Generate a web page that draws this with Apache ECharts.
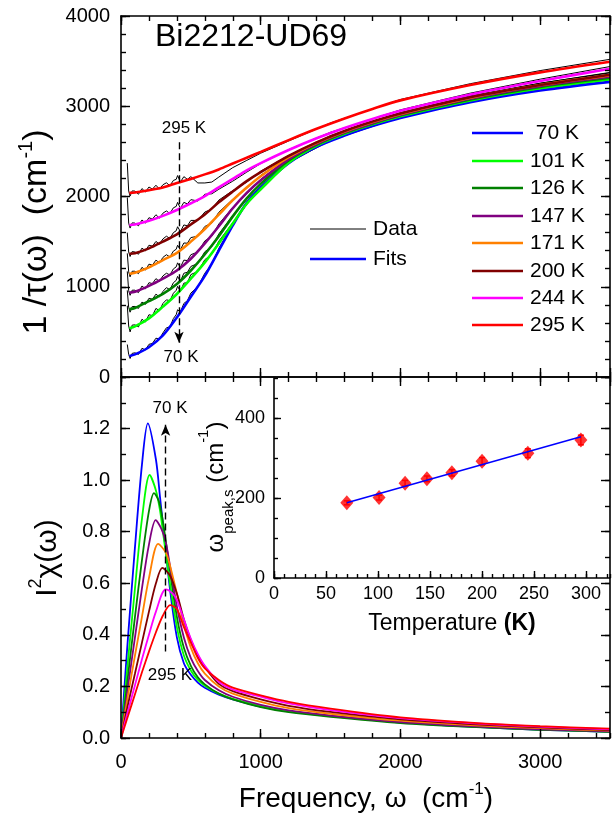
<!DOCTYPE html>
<html><head><meta charset="utf-8">
<script src="https://cdn.jsdelivr.net/npm/echarts/dist/echarts.min.js"></script>
<style>html,body{margin:0;padding:0;background:#fff}#c{width:613px;height:813px}</style>
</head><body><div id="c"></div>
<script>
// ---------------- data ----------------
const tempLabels = [' 70 K','101 K','126 K','147 K','171 K','200 K','244 K','295 K'];
const curveColors = ['#0000FF','#00FF00','#008000','#800080','#FF8000','#800000','#FF00FF','#FF0000'];

// top panel: fits 1/tau(omega)
const omegaFit = [60,100,200,300,400,500,600,700,800,900,1000,1200,1400,1600,1800,2000,2500,3000,3500];
const fit70  = [233,250,330,460,660,890,1120,1400,1680,1930,2100,2370,2550,2675,2780,2870,3045,3175,3270];
const fit101 = [541,560,650,780,920,1090,1270,1480,1700,1920,2080,2375,2565,2695,2800,2890,3065,3200,3300];
const fit126 = [752,765,840,920,1030,1180,1360,1560,1780,1980,2140,2400,2575,2705,2810,2900,3075,3215,3315];
const fit147 = [937,945,1010,1090,1180,1310,1480,1670,1870,2040,2180,2415,2585,2712,2815,2905,3085,3225,3330];
const fit171 = [1144,1155,1215,1295,1375,1500,1640,1800,1960,2100,2225,2435,2595,2720,2825,2915,3095,3235,3345];
const fit200 = [1365,1370,1425,1500,1580,1690,1800,1935,2055,2170,2270,2450,2600,2725,2830,2920,3100,3235,3350];
const fit244 = [1685,1690,1730,1785,1850,1925,2005,2100,2195,2290,2370,2515,2645,2760,2860,2950,3130,3280,3415];
const fit295 = [2040,2045,2070,2100,2150,2195,2245,2300,2365,2430,2495,2625,2750,2865,2970,3065,3235,3375,3493];

// top panel: measured data 1/tau(omega)
const omegaData = [45,55,65,80,100,125,150,175,200,225,250,275,300,325,350,375,395,405,425,450,475,500,550,600,650,700,800,900,1000,1200,1500,2000,2500,3000,3500];
const data70  = [360,250,205,262,268,250,318,300,362,372,430,420,488,545,555,648,690,745,720,815,845,930,1000,1150,1250,1425,1690,1920,2110,2375,2622,2880,3060,3195,3295];
const data101 = [790,565,500,575,578,555,640,610,690,680,760,735,815,855,845,928,960,1005,950,1040,1045,1135,1170,1300,1360,1505,1710,1910,2090,2380,2640,2900,3080,3220,3325];
const data126 = [960,772,718,780,782,760,830,805,872,862,918,888,948,990,968,1045,1070,1115,1060,1150,1160,1225,1258,1388,1445,1585,1790,1970,2150,2405,2650,2910,3090,3235,3340];
const data147 = [1170,955,905,962,962,935,1008,978,1045,1035,1090,1060,1120,1150,1130,1198,1220,1265,1215,1295,1290,1355,1385,1508,1560,1695,1880,2030,2190,2420,2660,2915,3100,3245,3355];
const data171 = [1370,1165,1110,1172,1172,1145,1215,1185,1250,1240,1295,1265,1325,1355,1330,1395,1415,1460,1410,1485,1482,1545,1560,1668,1705,1825,1970,2090,2235,2440,2668,2925,3110,3255,3370];
const data200 = [1600,1385,1335,1390,1385,1360,1428,1398,1460,1450,1502,1472,1530,1560,1535,1600,1620,1665,1612,1685,1675,1735,1735,1828,1860,1960,2065,2160,2280,2455,2673,2930,3115,3255,3375];
const data244 = [1990,1705,1650,1708,1705,1675,1740,1705,1765,1750,1798,1760,1815,1840,1812,1875,1890,1935,1870,1935,1918,1965,1950,2025,2030,2080,2170,2270,2365,2520,2712,2960,3145,3300,3440];
const data295 = [2370,2060,2005,2062,2060,2025,2088,2050,2105,2082,2125,2082,2130,2152,2120,2178,2190,2232,2160,2220,2190,2220,2150,2150,2160,2215,2320,2400,2480,2615,2815,3075,3250,3395,3520];

// bottom panel: I^2 chi(omega)  [omega, value]
const chi70  = [[0,0],[25,0.2],[50,0.39],[100,0.74],[150,1.06],[192,1.22],[250,1.08],[280,0.93],[300,0.83],[350,0.58],[400,0.39],[450,0.29],[500,0.245],[550,0.215],[600,0.195],[700,0.168],[800,0.15],[1000,0.122],[1200,0.103],[1500,0.085],[2000,0.06],[2500,0.044],[3000,0.032],[3500,0.024]];
const chi101 = [[0,0],[25,0.15],[50,0.30],[100,0.58],[150,0.85],[205,1.02],[250,0.96],[280,0.88],[300,0.80],[350,0.60],[400,0.43],[450,0.32],[500,0.262],[550,0.225],[600,0.203],[700,0.172],[800,0.152],[1000,0.124],[1200,0.104],[1500,0.086],[2000,0.061],[2500,0.045],[3000,0.033],[3500,0.025]];
const chi126 = [[0,0],[25,0.12],[50,0.24],[100,0.47],[150,0.69],[200,0.88],[236,0.95],[270,0.92],[300,0.84],[350,0.65],[400,0.47],[450,0.35],[500,0.28],[550,0.235],[600,0.208],[700,0.172],[800,0.15],[1000,0.12],[1200,0.1],[1500,0.082],[2000,0.058],[2500,0.043],[3000,0.032],[3500,0.024]];
const chi147 = [[0,0],[25,0.1],[50,0.2],[100,0.39],[150,0.58],[200,0.75],[248,0.845],[290,0.81],[320,0.76],[350,0.67],[400,0.51],[450,0.39],[500,0.31],[550,0.26],[600,0.225],[700,0.185],[800,0.16],[1000,0.128],[1200,0.107],[1500,0.087],[2000,0.062],[2500,0.046],[3000,0.034],[3500,0.026]];
const chi171 = [[0,0],[25,0.083],[50,0.165],[100,0.32],[150,0.47],[200,0.62],[266,0.753],[320,0.72],[350,0.67],[400,0.56],[450,0.44],[500,0.35],[550,0.29],[600,0.25],[700,0.2],[800,0.172],[1000,0.14],[1200,0.116],[1500,0.094],[2000,0.067],[2500,0.05],[3000,0.038],[3500,0.029]];
const chi200 = [[0,0],[25,0.065],[50,0.13],[100,0.25],[150,0.37],[200,0.49],[250,0.6],[296,0.66],[350,0.63],[400,0.56],[450,0.46],[500,0.38],[550,0.32],[600,0.275],[700,0.21],[800,0.182],[1000,0.15],[1200,0.125],[1500,0.101],[2000,0.072],[2500,0.054],[3000,0.041],[3500,0.031]];
const chi244 = [[0,0],[25,0.053],[50,0.105],[100,0.205],[150,0.305],[200,0.4],[250,0.49],[320,0.576],[370,0.56],[400,0.535],[450,0.46],[500,0.385],[550,0.325],[600,0.28],[700,0.218],[800,0.188],[1000,0.16],[1200,0.134],[1500,0.108],[2000,0.077],[2500,0.058],[3000,0.044],[3500,0.034]];
const chi295 = [[0,0],[25,0.043],[50,0.085],[100,0.17],[150,0.255],[200,0.335],[250,0.41],[300,0.475],[352,0.515],[400,0.5],[450,0.43],[500,0.37],[550,0.31],[600,0.27],[700,0.225],[800,0.195],[1000,0.165],[1200,0.14],[1500,0.114],[2000,0.08],[2500,0.06],[3000,0.046],[3500,0.036]];

// inset: omega_peak,s vs temperature
const insetT    = [70,101,126,147,171,200,244,295];
const insetPeak = [188,201,237,248,263,292,312,345];
const insetErr  = [5,6,7,7,8,9,11,12];
const insetFitT = [70,295];
const insetFitPeak = [188,353];

// tick labels / annotations
const freqTicks = [0,1000,2000,3000];
const arrowTop = {omega:415, from:2600, to:380};
const arrowBottom = {omega:319, from:0.335, to:1.215};

// ---------------- chart ----------------
const FF = "'Liberation Sans', Arial, Helvetica, sans-serif";
const fits = [fit70,fit101,fit126,fit147,fit171,fit200,fit244,fit295];
const datas = [data70,data101,data126,data147,data171,data200,data244,data295];
const chis = [chi70,chi101,chi126,chi147,chi171,chi200,chi244,chi295];

function axis(o){
  return {
    type:'value', min:0, gridIndex:o.grid, position:o.pos, max:o.max, interval:o.interval,
    splitLine:{show:false},
    axisLine:{show:!o.minor, onZero:false, lineStyle:{color:'#000', width:1.6}},
    axisTick:{show:true, inside:true, length:o.minor?o.minLen:o.majLen, lineStyle:{color:'#000', width:1.4}},
    axisLabel:{show:!!o.label, color:'#000', fontFamily:FF, fontSize:o.fs||20, margin:o.margin||12,
      showMaxLabel:o.showMax!==false, formatter:o.fmt||(v=>String(v))},
    z: 5
  };
}
const xAxes = [
  axis({grid:0,pos:'bottom',max:3500,interval:1000,majLen:9}),
  axis({grid:0,pos:'bottom',max:3500,interval:200,minor:true,minLen:5}),
  axis({grid:0,pos:'top',max:3500,interval:1000,majLen:9}),
  axis({grid:0,pos:'top',max:3500,interval:200,minor:true,minLen:5}),
  axis({grid:1,pos:'bottom',max:3500,interval:1000,majLen:9,label:true,showMax:false,margin:14,
        fmt:v=>freqTicks.indexOf(v)>=0?String(v):''}),
  axis({grid:1,pos:'bottom',max:3500,interval:200,minor:true,minLen:5}),
  axis({grid:1,pos:'top',max:3500,interval:1000,majLen:9}),
  axis({grid:1,pos:'top',max:3500,interval:200,minor:true,minLen:5}),
  axis({grid:2,pos:'bottom',max:323,interval:50,majLen:7,label:true,showMax:false,fs:18,margin:7}),
  axis({grid:2,pos:'bottom',max:323,interval:10,minor:true,minLen:4})
];
const yAxes = [
  axis({grid:0,pos:'left',max:4000,interval:1000,majLen:9,label:true,margin:11}),
  axis({grid:0,pos:'left',max:4000,interval:200,minor:true,minLen:5}),
  axis({grid:0,pos:'right',max:4000,interval:1000,majLen:9}),
  axis({grid:0,pos:'right',max:4000,interval:200,minor:true,minLen:5}),
  axis({grid:1,pos:'left',max:1.4,interval:0.2,majLen:9,label:true,showMax:false,margin:11,fmt:v=>v.toFixed(1)}),
  axis({grid:1,pos:'left',max:1.4,interval:0.1,minor:true,minLen:5}),
  axis({grid:1,pos:'right',max:1.4,interval:0.2,majLen:9}),
  axis({grid:1,pos:'right',max:1.4,interval:0.1,minor:true,minLen:5}),
  axis({grid:2,pos:'left',max:500,interval:200,majLen:7,label:true,showMax:false,fs:18,margin:9}),
  axis({grid:2,pos:'left',max:500,interval:50,minor:true,minLen:4})
];

const series = [];
datas.forEach((d,i)=>{
  series.push({type:'line', name:'data'+i, xAxisIndex:0, yAxisIndex:0, symbol:'none', z:2,
    lineStyle:{color:'#000', width:1}, data: omegaData.map((w,k)=>[w,d[k]])});
});
fits.forEach((f,i)=>{
  const s = {type:'line', name:'fit'+i, xAxisIndex:0, yAxisIndex:0, symbol:'none', smooth:0.3, z:3,
    lineStyle:{color:curveColors[i], width:2.6}, data: omegaFit.map((w,k)=>[w,f[k]])};
  if(i===7){
    s.markLine = {silent:true, symbol:['none','arrow'], symbolSize:[7,11], animation:false,
      lineStyle:{color:'#000', type:[7,4], width:1.4}, label:{show:false},
      data:[[{coord:[arrowTop.omega,arrowTop.from]},{coord:[arrowTop.omega,arrowTop.to]}]]};
  }
  series.push(s);
});
chis.forEach((c,i)=>{
  const s = {type:'line', name:'chi'+i, xAxisIndex:4, yAxisIndex:4, symbol:'none', smooth:0.3, z:3,
    lineStyle:{color:curveColors[i], width:1.8}, data:c};
  if(i===0){
    s.markLine = {silent:true, symbol:['none','arrow'], symbolSize:[7,11], animation:false,
      lineStyle:{color:'#000', type:[7,4], width:1.4}, label:{show:false},
      data:[[{coord:[arrowBottom.omega,arrowBottom.from]},{coord:[arrowBottom.omega,arrowBottom.to]}]]};
  }
  series.push(s);
});
series.push({type:'custom', xAxisIndex:8, yAxisIndex:8, z:4,
  data: insetT.map((t,k)=>[t,insetPeak[k],insetErr[k]]),
  renderItem:(params,api)=>{
    const x=api.value(0), y=api.value(1), e=api.value(2);
    const a=api.coord([x,y+e]), b=api.coord([x,y-e]);
    const st={stroke:'#FF0000', lineWidth:1.5};
    return {type:'group', children:[
      {type:'line', shape:{x1:a[0],y1:a[1],x2:b[0],y2:b[1]}, style:st},
      {type:'line', shape:{x1:a[0]-3,y1:a[1],x2:a[0]+3,y2:a[1]}, style:st},
      {type:'line', shape:{x1:b[0]-3,y1:b[1],x2:b[0]+3,y2:b[1]}, style:st}]};
  }});
series.push({type:'scatter', xAxisIndex:8, yAxisIndex:8, symbol:'diamond', symbolSize:[13,15], z:5,
  itemStyle:{color:'#FF0000'}, data: insetT.map((t,k)=>[t,insetPeak[k]])});
series.push({type:'line', xAxisIndex:8, yAxisIndex:8, symbol:'none', z:6,
  lineStyle:{color:'#0000FF', width:1.5}, data: insetFitT.map((t,k)=>[t,insetFitPeak[k]])});

const T = (x,y,text,size,extra)=>({type:'text', x:x, y:y, z:100, silent:true,
  style:Object.assign({text:text, fill:'#000', font:size+'px '+FF, fontSize:size, fontFamily:FF,
    align:'left', verticalAlign:'middle', textAlign:'left', textVerticalAlign:'middle'}, extra||{})});
const graphic = [];
graphic.push(T(155,37,'Bi2212-UD69',32));
graphic.push(T(184,128,'295 K',17,{align:'center',textAlign:'center'}));
graphic.push(T(181,357,'70 K',17,{align:'center',textAlign:'center'}));
graphic.push(T(170,408,'70 K',17,{align:'center',textAlign:'center'}));
graphic.push(T(170,675,'295 K',17,{align:'center',textAlign:'center'}));
const legY = [133,161,188,216,243,271,298,325];
tempLabels.forEach((t,i)=>{
  graphic.push({type:'line', silent:true, z:100, shape:{x1:472,y1:legY[i],x2:523,y2:legY[i]}, style:{stroke:curveColors[i], lineWidth:2.6}});
  graphic.push(T(530,legY[i],t,21));
});
graphic.push({type:'line', silent:true, z:100, shape:{x1:310,y1:229,x2:366,y2:229}, style:{stroke:'#000', lineWidth:1}});
graphic.push({type:'line', silent:true, z:100, shape:{x1:310,y1:259,x2:366,y2:259}, style:{stroke:'#0000FF', lineWidth:2.6}});
graphic.push(T(373,229,'Data',21));
graphic.push(T(373,259,'Fits',21));

function richT(x,y,text,rich,rot){
  return {type:'text', x:x, y:y, rotation:rot||0, z:100, silent:true,
    style:{text:text, rich:rich, fill:'#000', align:'center', verticalAlign:'middle', textAlign:'center', textVerticalAlign:'middle'}};
}
graphic.push(richT(35,232,'{a|1 /τ(ω)  (cm}{s|-1}{a|)}',{
  a:{fontSize:34, fontFamily:FF, lineHeight:38, verticalAlign:'bottom'},
  s:{fontSize:20, fontFamily:FF, lineHeight:22, verticalAlign:'top'}}, Math.PI/2));
graphic.push(richT(45,558,'{a|I}{s|2}{a|χ(ω)}',{
  a:{fontSize:30, fontFamily:FF, lineHeight:36, verticalAlign:'bottom'},
  s:{fontSize:18, fontFamily:FF, lineHeight:20, verticalAlign:'top'}}, Math.PI/2));
graphic.push(richT(366,797,'{a|Frequency, ω  (cm}{s|-1}{a|)}',{
  a:{fontSize:28, fontFamily:FF, lineHeight:32, verticalAlign:'bottom'},
  s:{fontSize:17, fontFamily:FF, lineHeight:18, verticalAlign:'top'}}));
graphic.push(richT(452,624,'{a|Temperature }{b|(K)}',{
  a:{fontSize:23, fontFamily:FF}, b:{fontSize:23, fontFamily:FF, fontWeight:'bold'}}));
graphic.push(richT(216,487,'{a|ω}{u|peak,s}{a| (cm}{s|-1}{a|)}',{
  a:{fontSize:24, fontFamily:FF, lineHeight:40, verticalAlign:'middle'},
  u:{fontSize:15, fontFamily:FF, lineHeight:16, verticalAlign:'bottom'},
  s:{fontSize:15, fontFamily:FF, lineHeight:16, verticalAlign:'top'}}, Math.PI/2));

const chart = echarts.init(document.getElementById('c'), null, {renderer:'canvas'});
chart.setOption({
  animation:false,
  backgroundColor:'#fff',
  grid:[
    {left:121, top:16, width:489, height:361, containLabel:false, outerBoundsMode:'none'},
    {left:121, top:377, width:489, height:361, containLabel:false, outerBoundsMode:'none'},
    {left:274, top:378, width:336, height:200, containLabel:false, outerBoundsMode:'none'}
  ],
  xAxis:xAxes, yAxis:yAxes, series:series, graphic:graphic
});
</script></body></html>
